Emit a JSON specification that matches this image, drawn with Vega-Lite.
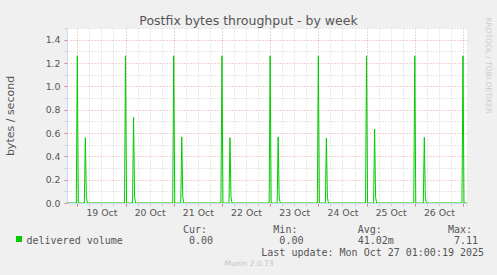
{
 "$schema": "https://vega.github.io/schema/vega-lite/v6.json",
 "width": 400,
 "height": 175,
 "autosize": {"type": "none"},
 "padding": {"left": 67, "top": 28, "right": 30, "bottom": 72},
 "background": "#f0f0f0",
 "title": {"text": "Postfix bytes throughput - by week", "font": "DejaVu Sans", "fontSize": 12.5, "fontWeight": "normal", "color": "#555555", "anchor": "middle", "frame": "group", "dx": -18.5, "dy": 27, "offset": 6, "baseline": "alphabetic"},
 "config": {"view": {"fill": "#ffffff", "stroke": null}},
 "data": {"values": [
  {"t": "2025-10-18T18:00", "v": 0},
  {"t": "2025-10-18T23:30", "v": 0}, {"t": "2025-10-19T00:00", "v": 1.262}, {"t": "2025-10-19T00:30", "v": 0},
  {"t": "2025-10-19T03:30", "v": 0}, {"t": "2025-10-19T04:00", "v": 0.56}, {"t": "2025-10-19T04:30", "v": 0.05}, {"t": "2025-10-19T05:00", "v": 0},
  {"t": "2025-10-19T23:30", "v": 0}, {"t": "2025-10-20T00:00", "v": 1.262}, {"t": "2025-10-20T00:30", "v": 0},
  {"t": "2025-10-20T03:30", "v": 0}, {"t": "2025-10-20T04:00", "v": 0.735}, {"t": "2025-10-20T04:30", "v": 0.05}, {"t": "2025-10-20T05:00", "v": 0},
  {"t": "2025-10-20T23:30", "v": 0}, {"t": "2025-10-21T00:00", "v": 1.262}, {"t": "2025-10-21T00:30", "v": 0},
  {"t": "2025-10-21T03:30", "v": 0}, {"t": "2025-10-21T04:00", "v": 0.566}, {"t": "2025-10-21T04:30", "v": 0.05}, {"t": "2025-10-21T05:00", "v": 0},
  {"t": "2025-10-21T23:30", "v": 0}, {"t": "2025-10-22T00:00", "v": 1.262}, {"t": "2025-10-22T00:30", "v": 0},
  {"t": "2025-10-22T03:30", "v": 0}, {"t": "2025-10-22T04:00", "v": 0.56}, {"t": "2025-10-22T04:30", "v": 0.05}, {"t": "2025-10-22T05:00", "v": 0},
  {"t": "2025-10-22T23:30", "v": 0}, {"t": "2025-10-23T00:00", "v": 1.262}, {"t": "2025-10-23T00:30", "v": 0},
  {"t": "2025-10-23T03:30", "v": 0}, {"t": "2025-10-23T04:00", "v": 0.566}, {"t": "2025-10-23T04:30", "v": 0.05}, {"t": "2025-10-23T05:00", "v": 0},
  {"t": "2025-10-23T23:30", "v": 0}, {"t": "2025-10-24T00:00", "v": 1.262}, {"t": "2025-10-24T00:30", "v": 0},
  {"t": "2025-10-24T03:30", "v": 0}, {"t": "2025-10-24T04:00", "v": 0.557}, {"t": "2025-10-24T04:30", "v": 0.05}, {"t": "2025-10-24T05:00", "v": 0},
  {"t": "2025-10-24T23:30", "v": 0}, {"t": "2025-10-25T00:00", "v": 1.262}, {"t": "2025-10-25T00:30", "v": 0},
  {"t": "2025-10-25T03:30", "v": 0}, {"t": "2025-10-25T04:00", "v": 0.634}, {"t": "2025-10-25T04:30", "v": 0.05}, {"t": "2025-10-25T05:00", "v": 0},
  {"t": "2025-10-25T23:30", "v": 0}, {"t": "2025-10-26T00:00", "v": 1.262}, {"t": "2025-10-26T00:30", "v": 0},
  {"t": "2025-10-26T04:15", "v": 0}, {"t": "2025-10-26T04:45", "v": 0.563}, {"t": "2025-10-26T05:15", "v": 0.05}, {"t": "2025-10-26T05:45", "v": 0},
  {"t": "2025-10-26T23:30", "v": 0}, {"t": "2025-10-27T00:00", "v": 1.262}, {"t": "2025-10-27T00:30", "v": 0},
  {"t": "2025-10-27T03:00", "v": 0}
 ]},
 "layer": [
  {
   "mark": {"type": "line", "strokeWidth": 1, "clip": true},
   "encoding": {
    "x": {"field": "t", "type": "temporal",
     "scale": {"domain": [{"year": 2025, "month": 10, "date": 18, "hours": 18, "minutes": 52}, {"year": 2025, "month": 10, "date": 27, "hours": 2, "minutes": 0}]},
     "axis": {
      "values": [
       {"year": 2025, "month": 10, "date": 19, "hours": 0}, {"year": 2025, "month": 10, "date": 19, "hours": 6}, {"year": 2025, "month": 10, "date": 19, "hours": 12}, {"year": 2025, "month": 10, "date": 19, "hours": 18},
       {"year": 2025, "month": 10, "date": 20, "hours": 0}, {"year": 2025, "month": 10, "date": 20, "hours": 6}, {"year": 2025, "month": 10, "date": 20, "hours": 12}, {"year": 2025, "month": 10, "date": 20, "hours": 18},
       {"year": 2025, "month": 10, "date": 21, "hours": 0}, {"year": 2025, "month": 10, "date": 21, "hours": 6}, {"year": 2025, "month": 10, "date": 21, "hours": 12}, {"year": 2025, "month": 10, "date": 21, "hours": 18},
       {"year": 2025, "month": 10, "date": 22, "hours": 0}, {"year": 2025, "month": 10, "date": 22, "hours": 6}, {"year": 2025, "month": 10, "date": 22, "hours": 12}, {"year": 2025, "month": 10, "date": 22, "hours": 18},
       {"year": 2025, "month": 10, "date": 23, "hours": 0}, {"year": 2025, "month": 10, "date": 23, "hours": 6}, {"year": 2025, "month": 10, "date": 23, "hours": 12}, {"year": 2025, "month": 10, "date": 23, "hours": 18},
       {"year": 2025, "month": 10, "date": 24, "hours": 0}, {"year": 2025, "month": 10, "date": 24, "hours": 6}, {"year": 2025, "month": 10, "date": 24, "hours": 12}, {"year": 2025, "month": 10, "date": 24, "hours": 18},
       {"year": 2025, "month": 10, "date": 25, "hours": 0}, {"year": 2025, "month": 10, "date": 25, "hours": 6}, {"year": 2025, "month": 10, "date": 25, "hours": 12}, {"year": 2025, "month": 10, "date": 25, "hours": 18},
       {"year": 2025, "month": 10, "date": 26, "hours": 0}, {"year": 2025, "month": 10, "date": 26, "hours": 6}, {"year": 2025, "month": 10, "date": 26, "hours": 12}, {"year": 2025, "month": 10, "date": 26, "hours": 18},
       {"year": 2025, "month": 10, "date": 27, "hours": 0}
      ],
      "labelExpr": "hours(datum.value) === 12 ? timeFormat(datum.value, '%d Oct') : ''",
      "labelFont": "DejaVu Sans", "labelFontSize": 9.33, "labelColor": "#555555", "labelPadding": 2,
      "labelOverlap": false, "labelFlush": false, "labelBound": false,
      "tickSize": 3,
      "tickColor": {"condition": {"test": "hours(datum.value) === 0", "value": "#e08080"}, "value": "#cccccc"},
      "grid": true, "gridDash": [1, 2],
      "gridColor": {"condition": {"test": "hours(datum.value) === 0", "value": "#e8a0a0"}, "value": "#d0d0d0"},
      "domainColor": "#cfd6f8",
      "title": [
       "\u200b\u00a0\u00a0\u00a0\u00a0\u00a0\u00a0\u00a0\u00a0\u00a0\u00a0\u00a0\u00a0\u00a0\u00a0\u00a0\u00a0\u00a0\u00a0\u00a0\u00a0\u00a0\u00a0\u00a0\u00a0\u00a0\u00a0Cur:\u00a0\u00a0\u00a0\u00a0\u00a0\u00a0\u00a0\u00a0\u00a0\u00a0\u00a0Min:\u00a0\u00a0\u00a0\u00a0\u00a0\u00a0\u00a0\u00a0\u00a0\u00a0Avg:\u00a0\u00a0\u00a0\u00a0\u00a0\u00a0\u00a0\u00a0\u00a0\u00a0\u00a0Max:",
       "delivered\u00a0volume\u00a0\u00a0\u00a0\u00a0\u00a0\u00a0\u00a0\u00a0\u00a0\u00a0\u00a00.00\u00a0\u00a0\u00a0\u00a0\u00a0\u00a0\u00a0\u00a0\u00a0\u00a0\u00a00.00\u00a0\u00a0\u00a0\u00a0\u00a0\u00a0\u00a0\u00a0\u00a041.02m\u00a0\u00a0\u00a0\u00a0\u00a0\u00a0\u00a0\u00a0\u00a0\u00a07.11",
       "\u200b\u00a0\u00a0\u00a0\u00a0\u00a0\u00a0\u00a0\u00a0\u00a0\u00a0\u00a0\u00a0\u00a0\u00a0\u00a0\u00a0\u00a0\u00a0\u00a0\u00a0\u00a0\u00a0\u00a0\u00a0\u00a0\u00a0\u00a0\u00a0\u00a0\u00a0\u00a0\u00a0\u00a0\u00a0\u00a0\u00a0\u00a0\u00a0\u00a0Last update: Mon Oct 27 01:00:19 2025"
      ],
      "titleFont": "DejaVu Sans Mono", "titleFontSize": 10, "titleFontWeight": "normal", "titleColor": "#555555",
      "titleAlign": "left", "titleBaseline": "top", "titleX": -41, "titleY": 21, "titleLineHeight": 11.7, "titleLimit": 1000
     }
    },
    "y": {"field": "v", "type": "quantitative",
     "scale": {"domain": [0, 1.5], "nice": false, "zero": true},
     "axis": {
      "values": [0, 0.1, 0.2, 0.3, 0.4, 0.5, 0.6, 0.7, 0.8, 0.9, 1.0, 1.1, 1.2, 1.3, 1.4, 1.5],
      "labelExpr": "round(datum.value * 10) % 2 === 0 ? format(datum.value, '.1f') : ''",
      "labelFont": "DejaVu Sans", "labelFontSize": 9.33, "labelColor": "#555555", "labelPadding": 4, "labelOverlap": false,
      "tickSize": 3,
      "tickColor": {"condition": {"test": "round(datum.value * 10) % 2 === 0", "value": "#e08080"}, "value": "#cccccc"},
      "grid": true, "gridDash": [1, 2],
      "gridColor": {"condition": {"test": "round(datum.value * 10) % 2 === 0", "value": "#e8a0a0"}, "value": "#d0d0d0"},
      "domainColor": "#cfd6f8",
      "title": "bytes / second", "titleFont": "DejaVu Sans", "titleFontSize": 11, "titleFontWeight": "normal", "titleColor": "#555555",
      "titleX": -57, "titleY": 87.5, "titleAngle": -90, "titleAlign": "center", "titleBaseline": "middle"
     }
    },
    "color": {"datum": "delivered volume", "type": "nominal", "scale": {"range": ["#00cc00"]},
     "legend": {"orient": "none", "legendX": -53, "legendY": 206, "title": null, "symbolType": "square", "symbolSize": 36,
      "symbolFillColor": "#00cc00", "symbolStrokeColor": "#00cc00", "symbolStrokeWidth": 0, "labelExpr": "''", "padding": 0}}
   }
  },
  {
   "mark": {"type": "point", "opacity": 0, "clip": true},
   "encoding": {
    "x": {"field": "t", "type": "temporal",
     "scale": {"domain": [{"year": 2025, "month": 10, "date": 18, "hours": 18, "minutes": 52}, {"year": 2025, "month": 10, "date": 27, "hours": 2, "minutes": 0}]},
     "axis": {"orient": "top", "labels": false, "ticks": false, "domain": false, "grid": false,
      "title": "Munin 2.0.73", "titleFont": "DejaVu Sans", "titleFontSize": 7.5, "titleFontWeight": "normal", "titleColor": "#c4c4c4",
      "titleX": 181.5, "titleY": 235.7, "titleAlign": "center", "titleBaseline": "middle"}},
    "y": {"field": "v", "type": "quantitative",
     "scale": {"domain": [0, 1.5], "nice": false, "zero": true},
     "axis": {"orient": "right", "labels": false, "ticks": false, "domain": false, "grid": false,
      "title": "RRDTOOL / TOBI OETIKER", "titleFont": "DejaVu Sans", "titleFontSize": 7.5, "titleFontWeight": "normal", "titleColor": "#cccccc",
      "titleX": 20.5, "titleY": 37, "titleAngle": 90, "titleAlign": "center", "titleBaseline": "middle"}}
   }
  }
 ],
 "resolve": {"axis": {"x": "independent", "y": "independent"}}
}
